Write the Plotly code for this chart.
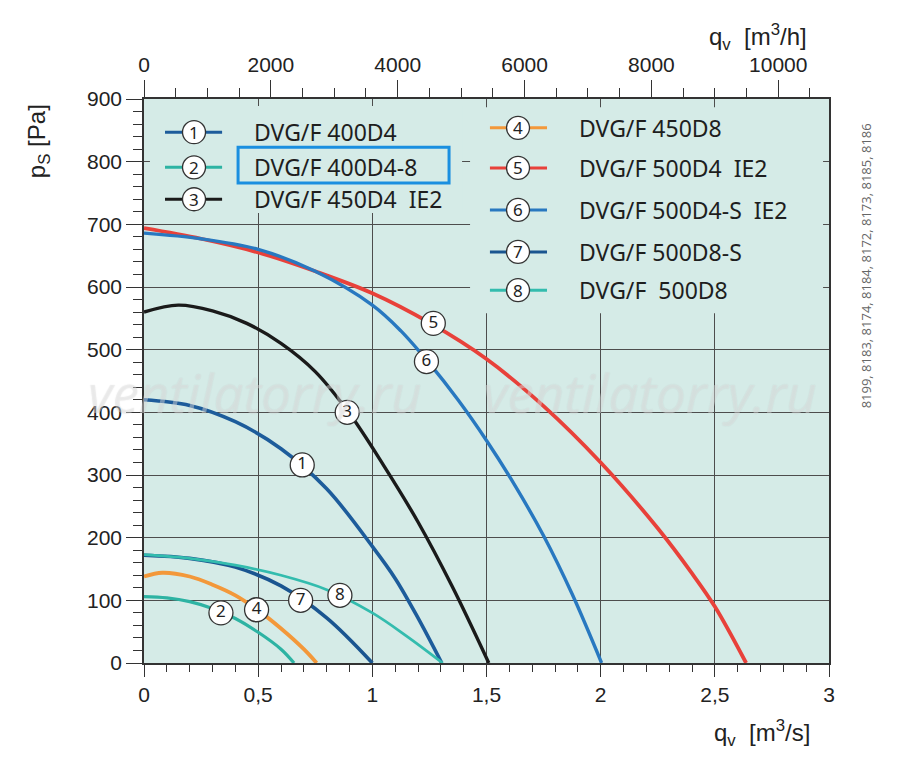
import plotly.graph_objects as go

# ---------------- data (q in m3/s, p in Pa) ----------------
names = ["DVG/F 400D4", "DVG/F 400D4-8", "DVG/F 450D4  IE2", "DVG/F 450D8",
         "DVG/F 500D4  IE2", "DVG/F 500D4-S  IE2", "DVG/F 500D8-S", "DVG/F  500D8"]
colors = ["#1d5c9b", "#2db3a3", "#1a1a1a", "#f3983a",
          "#e8413a", "#2878c0", "#1a5590", "#33bcae"]
widths = [3.6, 3.2, 3.4, 3.8, 3.8, 3.4, 3.6, 2.8]

q1 = [0, 0.2, 0.4, 0.6, 0.8, 1.0, 1.1, 1.2, 1.304]
p1 = [420, 411, 385, 342, 278, 186, 135, 72, 0]
q2 = [0, 0.1, 0.2, 0.3, 0.4, 0.5, 0.6, 0.657]
p2 = [106, 104, 98, 87, 71, 49, 22, 0]
q3 = [0, 0.15, 0.3, 0.45, 0.6, 0.75, 0.9, 1.05, 1.2, 1.35, 1.51]
p3 = [560, 571, 562, 542, 510, 465, 398, 315, 225, 122, 0]
q4 = [0, 0.08, 0.2, 0.3, 0.4, 0.5, 0.6, 0.7, 0.756]
p4 = [138, 144, 138, 125, 108, 84, 55, 22, 0]
q5 = [0, 0.25, 0.5, 0.75, 1.0, 1.25, 1.5, 1.75, 2.0, 2.25, 2.4, 2.5, 2.637]
p5 = [694, 677, 655, 625, 590, 543, 485, 410, 320, 215, 143, 90, 0]
q6 = [0, 0.25, 0.5, 0.75, 1.0, 1.125, 1.25, 1.375, 1.5, 1.625, 1.75, 1.875, 2.004]
p6 = [686, 677, 660, 625, 571, 530, 478, 420, 355, 283, 203, 110, 0]
q7 = [0, 0.2, 0.4, 0.6, 0.8, 1.0]
p7 = [172, 167, 153, 123, 72, 0]
q8 = [0, 0.2, 0.4, 0.6, 0.8, 1.0, 1.15, 1.308]
p8 = [173, 167, 156, 140, 117, 80, 43, 0]

curves_q = [q1, q2, q3, q4, q5, q6, q7, q8]
curves_p = [p1, p2, p3, p4, p5, p6, p7, p8]

# curve label positions (on the curves)
label_q = [0.693, 0.337, 0.89, 0.493, 1.267, 1.237, 0.686, 0.858]
label_p = [316, 80, 400, 85, 542, 481, 100, 108]
label_txt = ["1", "2", "3", "4", "5", "6", "7", "8"]

# axes ticks
x_ticks = [0, 0.5, 1, 1.5, 2, 2.5, 3]
x_ticktext = ["0", "0,5", "1", "1,5", "2", "2,5", "3"]
y_ticks = [0, 100, 200, 300, 400, 500, 600, 700, 800, 900]
top_ticks = [0, 2000, 4000, 6000, 8000, 10000]
top_ticktext = ["0", "2000", "4000", "6000", "8000", "10000"]
side_note = "8199, 8183, 8174, 8184, 8172, 8173, 8185, 8186"

BG = "#d5ebe7"
AX = "#333333"
GRID = "#4d4d4d"
TICKFONT = dict(family="Liberation Sans, Arial, sans-serif", size=21, color="#222")
LEGFONT = dict(family="Noto Sans, Open Sans, sans-serif", size=23, color="#1e1e1e")
TITLEFONT = dict(family="Liberation Sans, Arial, sans-serif", size=24, color="#222")

fig = go.Figure()

for i in range(8):
    fig.add_trace(go.Scatter(
        x=curves_q[i], y=curves_p[i], mode="lines", name=names[i],
        line=dict(color=colors[i], width=widths[i], shape="spline", smoothing=1.0),
        showlegend=False, hoverinfo="skip"))

# hidden trace on top axis (m3/h) so the axis is drawn
fig.add_trace(go.Scatter(x=[v * 3600 for v in q5], y=p5, xaxis="x2", mode="lines",
                         line=dict(width=0, color="rgba(0,0,0,0)"), showlegend=False,
                         hoverinfo="skip"))

# curve labels
fig.add_trace(go.Scatter(
    x=label_q, y=label_p, mode="markers+text", text=label_txt,
    textposition="middle center",
    textfont=dict(family="Noto Sans, sans-serif", size=17, color="#222"),
    marker=dict(size=24, color="white", line=dict(color="#333", width=1.3)),
    showlegend=False, hoverinfo="skip", cliponaxis=False))

shapes = []
annotations = []

# legend background blocks (hide gridlines)
shapes.append(dict(type="rect", xref="x", yref="y", x0=0.026, x1=1.393, y0=718, y1=889,
                   fillcolor=BG, line=dict(width=0), layer="between"))
shapes.append(dict(type="rect", xref="x", yref="y", x0=1.428, x1=2.974, y0=558, y1=887,
                   fillcolor=BG, line=dict(width=0), layer="between"))

# legend entries
leg_left_p = [847, 791, 740]
leg_right_p = [854, 790, 723, 656, 595]
leg_x = [(0.092, 0.219, 0.342, 0.473)] * 3 + [(1.515, 1.638, 1.765, 1.896)] * 5
leg_p = leg_left_p + leg_right_p
for i in range(8):
    x0, xc, x1, xt = leg_x[i]
    py = leg_p[i]
    shapes.append(dict(type="line", xref="x", yref="y", x0=x0, x1=x1, y0=py, y1=py,
                       line=dict(color=colors[i], width=3), layer="above"))
    shapes.append(dict(type="circle", xref="x", yref="y", xsizemode="pixel", ysizemode="pixel",
                       xanchor=xc, yanchor=py, x0=-11.5, x1=11.5, y0=-11.5, y1=11.5,
                       fillcolor="white", line=dict(color="#333", width=1.3), layer="above"))
    annotations.append(dict(x=xc, y=py, xref="x", yref="y", text=label_txt[i], showarrow=False,
                            font=dict(family="Noto Sans, sans-serif", size=17, color="#222"),
                            xanchor="center", yanchor="middle"))
    annotations.append(dict(x=xt, y=py, xref="x", yref="y",
                            text=names[i].replace(" ", "\u00a0"), showarrow=False,
                            font=LEGFONT, xanchor="left", yanchor="middle"))

# highlight box around entry 2
shapes.append(dict(type="rect", xref="x", yref="y", x0=0.412, x1=1.336, y0=766, y1=823,
                   fillcolor="rgba(0,0,0,0)", line=dict(color="#1a8fe0", width=3), layer="above"))

# axis titles
annotations.append(dict(x=-0.155, y=0.925, xref="paper", yref="paper",
                        text="p<sub>S</sub> [Pa]", textangle=-90, showarrow=False,
                        font=TITLEFONT, xanchor="center", yanchor="middle"))
annotations.append(dict(x=0.896, y=1.11, xref="paper", yref="paper",
                        text="q<sub>v</sub>\u00a0\u00a0[m<sup>3</sup>/h]", showarrow=False,
                        font=TITLEFONT, xanchor="center", yanchor="middle"))
annotations.append(dict(x=0.902, y=-0.124, xref="paper", yref="paper",
                        text="q<sub>v</sub>\u00a0\u00a0[m<sup>3</sup>/s]", showarrow=False,
                        font=TITLEFONT, xanchor="center", yanchor="middle"))
# side note
annotations.append(dict(x=1.054, y=0.705, xref="paper", yref="paper", text=side_note,
                        textangle=-90, showarrow=False,
                        font=dict(family="Open Sans, sans-serif", size=13, color="#666"),
                        xanchor="center", yanchor="middle"))
# watermarks
for wx in (0.162, 0.739):
    annotations.append(dict(x=wx, y=0.479, xref="paper", yref="paper", text="<i>ventilatorry.ru</i>",
                            showarrow=False,
                            font=dict(family="Open Sans, sans-serif", size=53,
                                      color="rgba(255,255,255,0.35)",
                                      shadow="0px 0px 1px rgba(100,100,100,0.6)"),
                            xanchor="center", yanchor="middle"))

fig.update_layout(
    width=892, height=773,
    margin=dict(l=136, r=71, t=91, b=118),
    paper_bgcolor="white", plot_bgcolor=BG,
    shapes=shapes, annotations=annotations,
    xaxis=dict(range=[0, 3], tickmode="array", tickvals=x_ticks, ticktext=x_ticktext,
               ticks="outside", ticklen=12, tickwidth=1.3, tickcolor=AX,
               minor=dict(tickmode="linear", tick0=0, dtick=0.1, ticks="outside", ticklen=7,
                          tickwidth=1.2, tickcolor=AX, showgrid=False),
               showline=True, linecolor=AX, linewidth=1.6, mirror=True,
               showgrid=True, gridcolor=GRID, gridwidth=1.2, zeroline=False,
               tickfont=TICKFONT, fixedrange=True),
    xaxis2=dict(range=[0, 3 * 3600], overlaying="x", side="top", anchor="y",
                tickmode="array", tickvals=top_ticks, ticktext=top_ticktext,
                ticks="outside", ticklen=17, tickwidth=1.3, tickcolor=AX,
                minor=dict(tickmode="linear", tick0=0, dtick=500, ticks="outside", ticklen=9,
                           tickwidth=1.2, tickcolor=AX, showgrid=False),
                showline=True, linecolor=AX, linewidth=1.6, showgrid=False, zeroline=False,
                tickfont=TICKFONT, fixedrange=True),
    yaxis=dict(range=[0, 900], tickmode="array", tickvals=y_ticks,
               ticks="outside", ticklen=16, tickwidth=1.3, tickcolor=AX,
               minor=dict(tickmode="linear", tick0=0, dtick=20, ticks="outside", ticklen=9,
                          tickwidth=1.2, tickcolor=AX, showgrid=False),
               showline=True, linecolor=AX, linewidth=1.6, mirror=True,
               showgrid=True, gridcolor=GRID, gridwidth=1.2, zeroline=False,
               tickfont=TICKFONT, fixedrange=True),
)

fig.write_html("out.html")
